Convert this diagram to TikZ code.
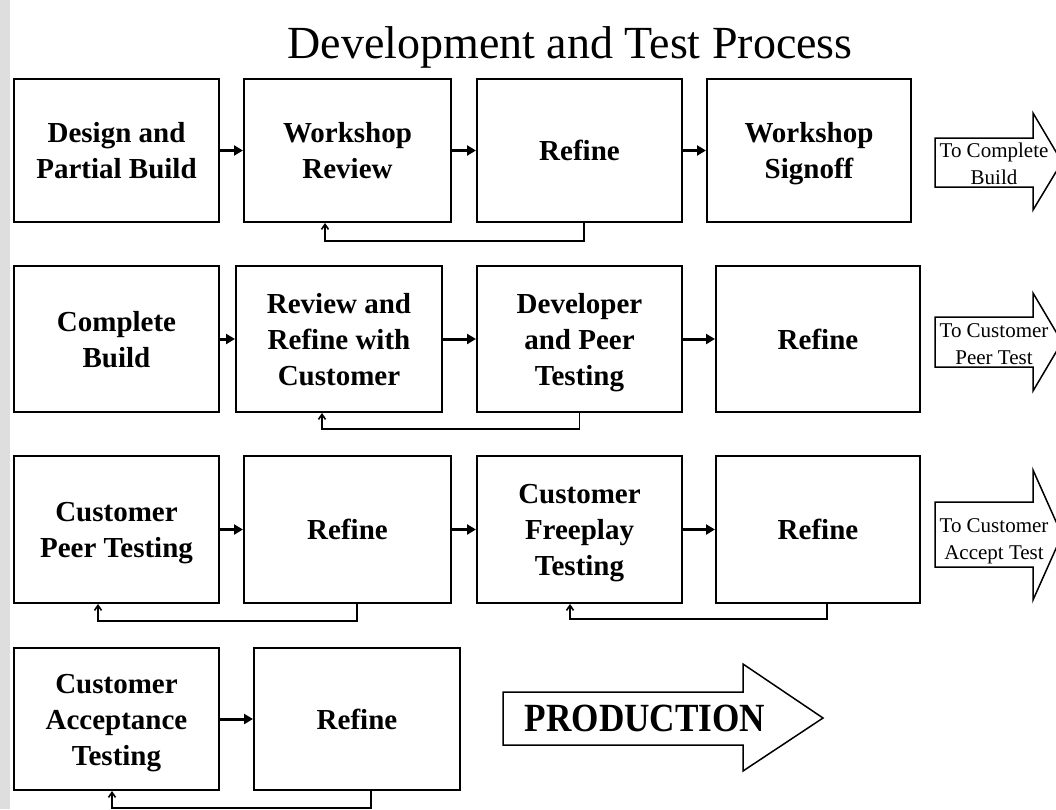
\documentclass[tikz,border=0pt]{standalone}
\usepackage{fontspec}
\setmainfont{Liberation Serif}
\usetikzlibrary{arrows.meta}
\newcommand\bxstrut{\rule[-8pt]{0pt}{36pt}}
\newcommand\smstrut{\rule[-6pt]{0pt}{27pt}}
\newcommand\procbox[6]{%
  \node[box, minimum width={#3-#2}, minimum height={#5-#4}] (#1) at ({(#2+#3)/2},{(#4+#5)/2}) {\bxstrut#6\bxstrut};}
\begin{document}
\begin{tikzpicture}[x=1pt,y=-1pt,
  box/.style={draw, line width=2pt, align=center, inner sep=0pt,
    font=\bfseries\fontsize{29}{36}\selectfont},
  flow/.style={line width=3pt, -{Triangle[length=9pt,width=10pt]}},
  back/.style={line width=1.6pt, -{Straight Barb[length=5pt,width=7pt]}},
  bigarrow/.style={draw, line width=1.5pt, fill=white, line join=miter},
  smalltxt/.style={align=center, inner sep=0pt, font=\fontsize{21}{27}\selectfont},
]
\useasboundingbox (0,0) rectangle (1056,809);
\fill[white] (0,0) rectangle (1056,809);
\fill[black!13] (0,0) rectangle (10,809);

\node[anchor=base, font=\fontsize{46}{50}\selectfont] (title) at (570,58) {Development and Test Process};

% row 1
\procbox{b11}{14}{219}{79}{222}{Design and\\Partial Build}
\procbox{b12}{244}{451}{79}{222}{Workshop\\Review}
\procbox{b13}{477}{682}{79}{222}{Refine}
\procbox{b14}{707}{911}{79}{222}{Workshop\\Signoff}
% row 2
\procbox{b21}{14}{219}{266}{412}{Complete\\Build}
\procbox{b22}{236}{442}{266}{412}{Review and\\Refine with\\Customer}
\procbox{b23}{477}{682}{266}{412}{Developer\\and Peer\\Testing}
\procbox{b24}{716}{920}{266}{412}{Refine}
% row 3
\procbox{b31}{14}{219}{456}{603}{Customer\\Peer Testing}
\procbox{b32}{244}{451}{456}{603}{Refine}
\procbox{b33}{477}{682}{456}{603}{Customer\\Freeplay\\Testing}
\procbox{b34}{716}{920}{456}{603}{Refine}
% row 4
\procbox{b41}{14}{219}{648}{790}{Customer\\Acceptance\\Testing}
\procbox{b42}{254}{460}{648}{790}{Refine}

% forward connectors
\draw[flow] (b11) -- (b12);
\draw[flow] (b12) -- (b13);
\draw[flow] (b13) -- (b14);
\draw[flow] (b21) -- (b22);
\draw[flow] (b22) -- (b23);
\draw[flow] (b23) -- (b24);
\draw[flow] (b31) -- (b32);
\draw[flow] (b32) -- (b33);
\draw[flow] (b33) -- (b34);
\draw[flow] (b41) -- (b42);

% feedback loops
\draw[back] ([xshift=4.5pt]b13.south) -- ++(0,18) -| ([xshift=-22.5pt]b12.south);
\draw[back] (b23.south) -- ++(0,16) -| ([xshift=-17pt]b22.south);
\draw[back] ([xshift=9.5pt]b32.south) -- ++(0,17) -| ([xshift=-18.5pt]b31.south);
\draw[back] ([xshift=9pt]b34.south) -- ++(0,15) -| ([xshift=-9.5pt]b33.south);
\draw[back] ([xshift=14pt]b42.south) -- ++(0,17) -| ([xshift=-4.5pt]b41.south);

% side arrows
\draw[bigarrow] (935,138) -- (1033,138) -- (1033,113) -- (1062,162) -- (1033,210) -- (1033,187) -- (935,187) -- cycle;
\node[smalltxt] (a1) at (994,163) {\smstrut To Complete\\Build\smstrut};
\draw[bigarrow] (935,317) -- (1033,317) -- (1033,293) -- (1062,342) -- (1033,391) -- (1033,367) -- (935,367) -- cycle;
\node[smalltxt] (a2) at (994,343) {\smstrut To Customer\\Peer Test\smstrut};
\draw[bigarrow] (935,502) -- (1033,502) -- (1033,470) -- (1062,535) -- (1033,600) -- (1033,567) -- (935,567) -- cycle;
\node[smalltxt] (a3) at (994,538) {\smstrut To Customer\\Accept Test\smstrut};

% production arrow
\draw[bigarrow] (503,692) -- (743,692) -- (743,664) -- (823,718) -- (743,771) -- (743,745) -- (503,745) -- cycle;
\node[inner sep=0pt, font=\bfseries\fontsize{40}{44}\selectfont] (prod) at (645,718.5) {\scalebox{0.88}[1]{PRODUCTION}};
\end{tikzpicture}
\end{document}
